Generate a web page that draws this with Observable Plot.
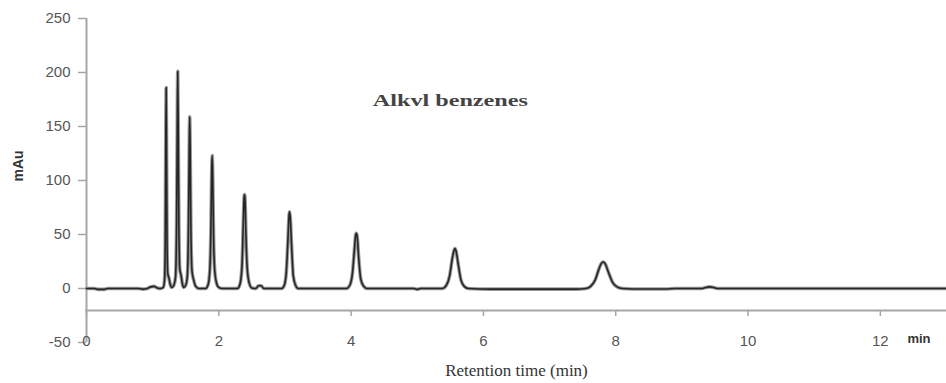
<!DOCTYPE html>
<html><head><meta charset="utf-8">
<script src="https://cdn.jsdelivr.net/npm/d3@7"></script>
<script src="https://cdn.jsdelivr.net/npm/@observablehq/plot@0.6"></script>
<style>body{margin:0;background:#fff} #chart svg{display:block}</style>
</head><body><div id="chart"></div>
<script>
// Retention time (min) and detector signal (mAu)
const times = [
  0, 0.12, 0.18, 0.26, 0.32, 0.78, 0.85, 0.92, 0.97, 1.02, 1.07, 1.12,
  1.16, 1.18, 1.19, 1.197, 1.204, 1.211, 1.218, 1.228, 1.245, 1.265, 1.29,
  1.32, 1.345, 1.362, 1.372, 1.379, 1.386, 1.396, 1.41, 1.43, 1.45, 1.47,
  1.5, 1.525, 1.542, 1.553, 1.56, 1.567, 1.578, 1.595, 1.62, 1.65, 1.7,
  1.8, 1.84, 1.865, 1.882, 1.893, 1.9, 1.908, 1.92, 1.94, 1.97, 2.0, 2.05,
  2.28, 2.32, 2.35, 2.37, 2.383, 2.39, 2.398, 2.41, 2.43, 2.46, 2.5, 2.56, 2.6, 2.64, 2.68,
  2.95, 2.99, 3.02, 3.045, 3.062, 3.07, 3.08, 3.1, 3.125, 3.16, 3.2,
  3.93, 3.98, 4.02, 4.05, 4.07, 4.08, 4.092, 4.115, 4.145, 4.19, 4.24,
  4.95, 5.0, 5.05,
  5.38, 5.44, 5.49, 5.53, 5.56, 5.57, 5.585, 5.62, 5.66, 5.71, 5.77,
  6.1, 7.4, 7.55, 7.62, 7.69, 7.74, 7.78, 7.81, 7.84, 7.89, 7.95, 8.02, 8.1, 8.4, 8.75, 8.9,
  9.3, 9.36, 9.42, 9.48, 9.54, 13
];
const signal = [
  0, 0, -0.8, -0.8, 0, 0, -0.6, 0, 1.5, 2, 0.5, 0,
  1, 8, 40, 120, 186, 120, 40, 14, 10, 4, 1,
  3, 10, 60, 150, 201, 150, 60, 18, 12, 4, 1,
  3, 12, 60, 130, 159, 130, 55, 16, 8, 2, 0,
  0, 4, 18, 60, 110, 123, 105, 50, 15, 4, 1, 0,
  0, 4, 20, 60, 85, 87, 80, 50, 18, 5, 0.5, 0, 2.5, 2.5, 0,
  0, 3, 15, 45, 68, 71, 66, 40, 12, 3, 0,
  0, 3, 14, 36, 50, 51, 48, 28, 9, 2, 0,
  0, -0.8, 0,
  0, 3, 12, 28, 36, 37, 35, 22, 8, 2, 0,
  -0.6, -0.6, 0, 2, 8, 17, 23, 24.5, 23, 15, 6, 1.5, 0, -0.5, -0.5, 0,
  0, 1, 1.5, 1, 0, 0
];
const xTicks = [0, 2, 4, 6, 8, 10, 12];
const yTicks = [-50, 0, 50, 100, 150, 200, 250];
const chartTitle = "Alkvl benzenes";
const titleAt = [{t: 5.5, v: 174}];
const xLabel = "Retention time (min)";
const xUnit = "min";
const yLabel = "mAu";

const trace = times.map((t, i) => ({t, v: signal[i]}));
const tickFont = "'Liberation Sans', Arial, sans-serif";
const serif = "'Liberation Serif', 'Times New Roman', serif";

const plot = Plot.plot({
  width: 946, height: 383,
  marginLeft: 86, marginRight: 0, marginTop: 18, marginBottom: 73,
  x: {domain: [0, 13]},
  y: {domain: [-50, 250], range: [342, 18]},
  style: {fontFamily: tickFont, background: "#fff", overflow: "visible"},
  marks: [
    Plot.frame({anchor: "bottom", stroke: "#a6a6a6", strokeWidth: 2, strokeOpacity: 1}),
    Plot.ruleX([0], {y1: -50, y2: 250, stroke: "#a6a6a6", strokeWidth: 2}),
    Plot.axisY(yTicks, {tickSize: 8, tickPadding: 8, stroke: "#a6a6a6", strokeWidth: 1.5, fill: "#555", fontSize: 15, label: null, tickFormat: d => String(d)}),
    Plot.axisX(xTicks, {tickSize: 6, tickPadding: 19, stroke: "#a6a6a6", strokeWidth: 1.5, fill: "#555", fontSize: 15, label: null, tickFormat: d => String(d)}),
    Plot.line(trace, {x: "t", y: "v", stroke: "#9a9a9a", strokeWidth: 3.6, curve: "monotone-x"}),
    Plot.line(trace, {x: "t", y: "v", stroke: "#262626", strokeWidth: 1.6, curve: "monotone-x"}),
    Plot.text([chartTitle], {x: () => titleAt[0].t, y: () => titleAt[0].v, fontFamily: serif, fontSize: 16, fontWeight: "bold", fill: "#444"}),
    Plot.text([yLabel], {frameAnchor: "left", dx: -68, dy: 17, rotate: -90, fontWeight: "bold", fontSize: 14, fill: "#333"}),
    Plot.text([xUnit], {frameAnchor: "bottom-right", dx: -16, dy: 32, fontWeight: "bold", fontSize: 13, fill: "#333"}),
    Plot.text([xLabel], {frameAnchor: "bottom", dy: 65, fontFamily: serif, fontSize: 17, fill: "#333"})
  ]
});
d3.select(plot).selectAll("text").filter(function() { return this.textContent === chartTitle; })
  .attr("textLength", 155).attr("lengthAdjust", "spacingAndGlyphs");
document.getElementById("chart").appendChild(plot);
</script>
</body></html>
